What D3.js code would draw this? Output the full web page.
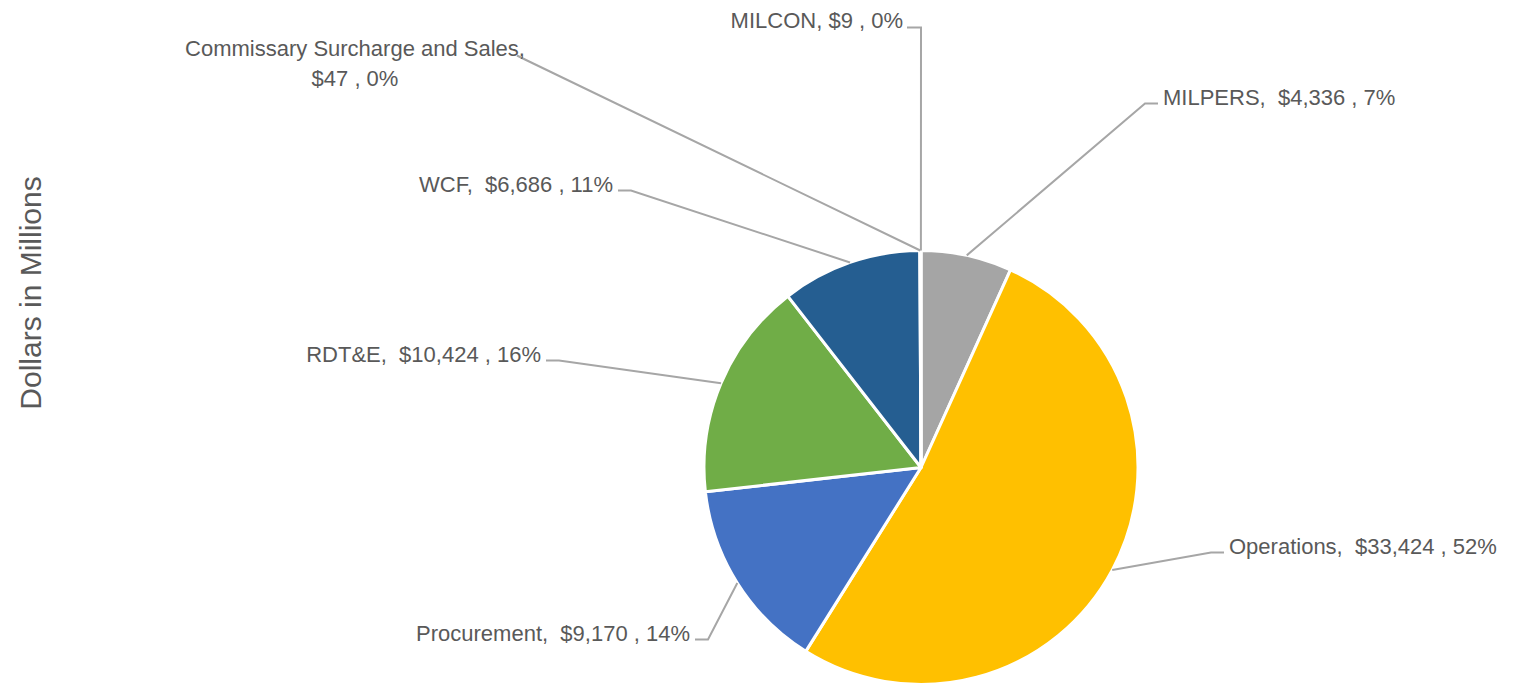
<!DOCTYPE html>
<html>
<head>
<meta charset="utf-8">
<script src="https://cdn.jsdelivr.net/npm/d3@7"></script>
<style>
  html, body { margin: 0; padding: 0; background: #ffffff; }
  svg { display: block; }
  text { font-family: "Liberation Sans", Arial, sans-serif; fill: #595959; white-space: pre; }
</style>
</head>
<body>
<svg id="chart" width="1518" height="688"></svg>
<script>
// ---- data ----
const categories = ["MILPERS", "Operations", "Procurement", "RDT&E", "WCF", "Commissary Surcharge and Sales", "MILCON"];
const values = [4336, 33424, 9170, 10424, 6686, 47, 9];
const valueLabels = ["$4,336", "$33,424", "$9,170", "$10,424", "$6,686", "$47", "$9"];
const percentLabels = ["7%", "52%", "14%", "16%", "11%", "0%", "0%"];
const colors = ["#A5A5A5", "#FFC000", "#4472C4", "#70AD47", "#255E91", "#9E480E", "#636363"];
const axisTitle = "Dollars in Millions";

// ---- layout config (label anchors relative to pie centre) ----
const W = 1518, H = 688;
const cx = 921, cy = 467.5, R = 217;
const labelLayout = [
  { dx: 242, dy: -363, anchor: "start", elbow: [237, 225] },   // MILPERS
  { dx: 308, dy: 86,   anchor: "start", elbow: [303, 292] },   // Operations
  { dx: -231, dy: 173, anchor: "end",   elbow: [-226, -213] }, // Procurement
  { dx: -380, dy: -106, anchor: "end",  elbow: [-375, -360] }, // RDT&E
  { dx: -308, dy: -276, anchor: "end",  elbow: [-303, -290] }, // WCF
  { dx: -566, dy: -382, anchor: "middle", elbow: [-396, -408] }, // Commissary
  { dx: -18,  dy: -440, anchor: "end",  elbow: [-1, -440] }      // MILCON
];

const svg = d3.select("#chart");

// axis title
svg.append("text")
  .attr("transform", `translate(41,${293}) rotate(-90)`)
  .attr("text-anchor", "middle")
  .attr("font-size", 30)
  .text(axisTitle);

const pie = d3.pie().sort(null).value(d => d)(values);
const arc = d3.arc().innerRadius(0).outerRadius(R);

const g = svg.append("g").attr("transform", `translate(${cx},${cy})`);

g.selectAll("path.slice")
  .data(pie)
  .join("path")
  .attr("class", "slice")
  .attr("d", arc)
  .attr("fill", (d, i) => colors[i])
  .attr("stroke", "#ffffff")
  .attr("stroke-width", 3)
  .attr("stroke-linejoin", "round");

// leader lines
const lines = svg.append("g").attr("transform", `translate(${cx},${cy})`);
pie.forEach((d, i) => {
  const a = (d.startAngle + d.endAngle) / 2;
  const ex = R * Math.sin(a), ey = -R * Math.cos(a);
  const L = labelLayout[i];
  let pts;
  if (i === 6) {
    pts = [[L.dx + 4, L.dy], [0, L.dy], [ex, ey]];
  } else if (i === 5) {
    pts = [[L.elbow[0] - 8, L.elbow[1] - 4], [L.elbow[0], L.elbow[1]], [ex, ey]];
  } else {
    const sx = L.anchor === "start" ? L.dx - 5 : L.dx + 5;
    const ly = L.dy - 1;
    pts = [[sx, ly], [L.elbow[0] + (L.anchor === "start" ? -13 : 13), ly], [ex, ey]];
  }
  lines.append("path")
    .attr("d", d3.line()(pts))
    .attr("fill", "none")
    .attr("stroke", "#A6A6A6")
    .attr("stroke-width", 2);
});

// labels
const labels = svg.append("g").attr("transform", `translate(${cx},${cy})`);
pie.forEach((d, i) => {
  const L = labelLayout[i];
  const t = labels.append("text")
    .attr("x", L.dx)
    .attr("y", L.dy)
    .attr("text-anchor", L.anchor)
    .attr("font-size", 22);
  if (i === 5) {
    t.append("tspan").attr("x", L.dx).attr("dy", -30).text(categories[i] + ",");
    t.append("tspan").attr("x", L.dx).attr("dy", 30).text(valueLabels[i] + " , " + percentLabels[i]);
  } else if (i === 6) {
    t.text(categories[i] + ", " + valueLabels[i] + " , " + percentLabels[i]);
  } else {
    t.text(categories[i] + ",  " + valueLabels[i] + " , " + percentLabels[i]);
  }
});
</script>
</body>
</html>
